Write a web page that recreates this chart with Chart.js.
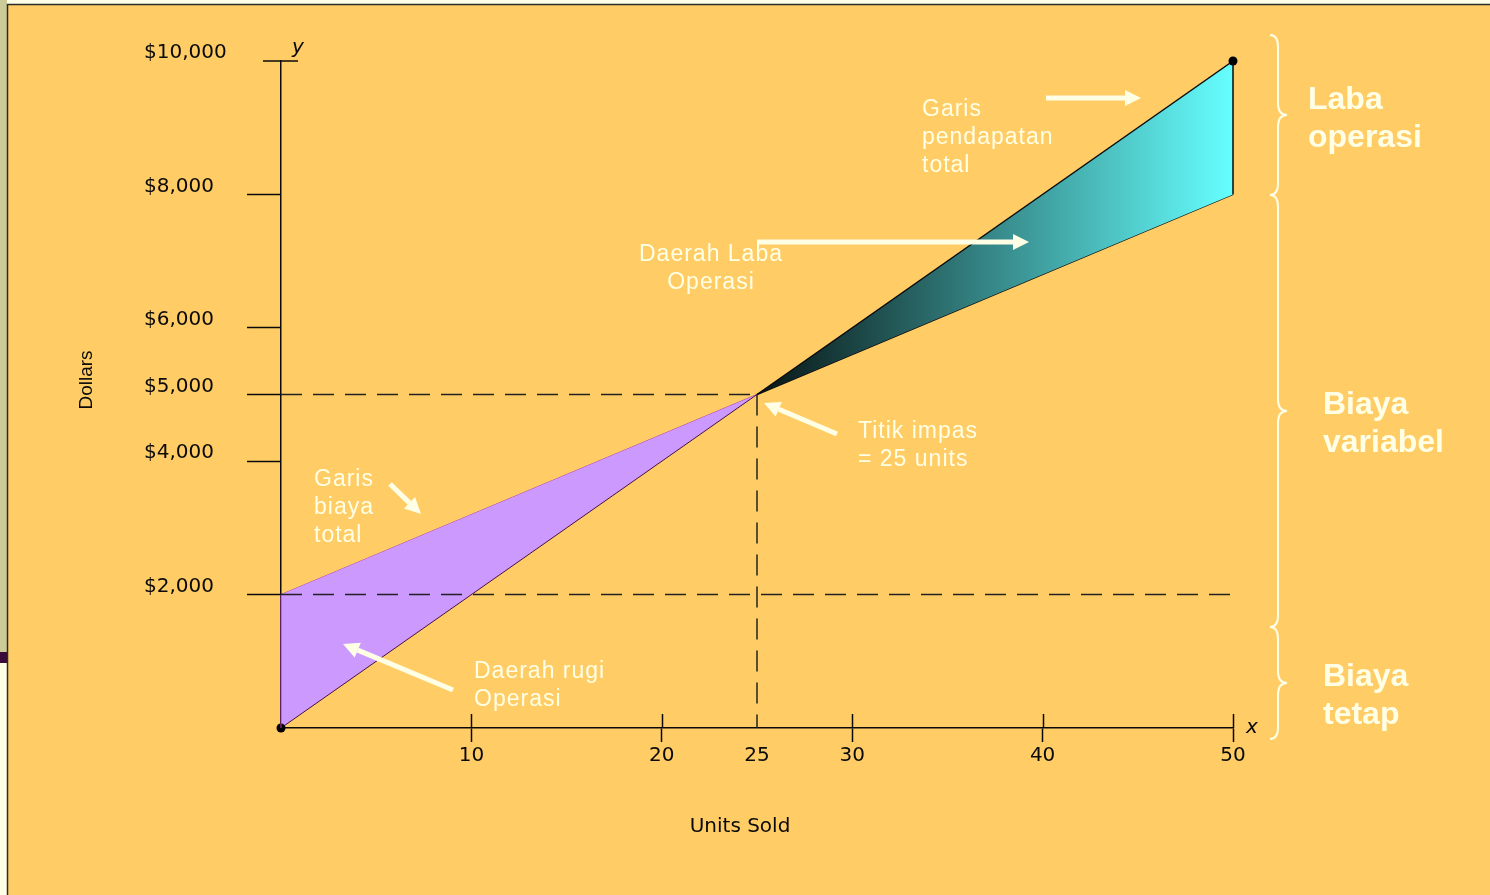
<!DOCTYPE html>
<html lang="id">
<head>
  <meta charset="UTF-8" />
  <title>Titik Impas - Grafik Biaya Volume Laba</title>
  <script src="https://cdn.jsdelivr.net/npm/chart.js"></script>
  <style>
    html, body { margin: 0; padding: 0; overflow: hidden; background: #FFFFE8; }
    canvas { display: block; }
  </style>
</head>
<body>
  <canvas id="bepChart" width="1490" height="895"></canvas>

  <script>
    // Data
    const units = [0, 25, 50];
    const revenue = [0, 5000, 10000];
    const totalCost = [2000, 5000, 8000];
    const xTicks = [10, 20, 25, 30, 40, 50];
    const yTicks = [2000, 4000, 5000, 6000, 8000, 10000];

    const beIndex = units.findIndex((u, i) => i > 0 && revenue[i] === totalCost[i]);
    const beUnits = units[beIndex];
    const beDollars = revenue[beIndex];
    const fixedCost = totalCost[0];
    const xMax = units[units.length - 1];
    const yMax = yTicks[yTicks.length - 1];

    const TXT = '#FFFFE6';
    const INK = '#0a0a0a';
    const NONE = 'rgba(0,0,0,0)';

    function pts(xs, ys) {
      return xs.map((x, i) => ({ x: x, y: ys[i] }));
    }

    const lossRev = pts(units.slice(0, beIndex + 1), revenue.slice(0, beIndex + 1));
    const lossCost = pts(units.slice(0, beIndex + 1), totalCost.slice(0, beIndex + 1));
    const profRev = pts(units.slice(beIndex), revenue.slice(beIndex));
    const profCost = pts(units.slice(beIndex), totalCost.slice(beIndex));

    function profitGradient(context) {
      const chart = context.chart;
      const { ctx, chartArea, scales } = chart;
      if (!chartArea || !scales.x) return '#33AAAA';
      const x0 = scales.x.getPixelForValue(beUnits);
      const x1 = scales.x.getPixelForValue(xMax);
      const g = ctx.createLinearGradient(x0, 0, x1, 0);
      g.addColorStop(0, '#081414');
      g.addColorStop(1, '#66FFFF');
      return g;
    }

    function arrow(c, x1, y1, x2, y2) {
      const a = Math.atan2(y2 - y1, x2 - x1);
      const hl = 16, hw = 8;
      const bx = x2 - hl * Math.cos(a), by = y2 - hl * Math.sin(a);
      c.lineWidth = 5;
      c.beginPath(); c.moveTo(x1, y1); c.lineTo(bx, by); c.stroke();
      c.beginPath();
      c.moveTo(x2, y2);
      c.lineTo(bx - hw * Math.sin(a), by + hw * Math.cos(a));
      c.lineTo(bx + hw * Math.sin(a), by - hw * Math.cos(a));
      c.closePath(); c.fill();
    }

    function brace(c, x, top, mid, bottom) {
      c.beginPath();
      c.moveTo(x - 8, top);
      c.quadraticCurveTo(x, top, x, top + 12);
      c.lineTo(x, mid - 12);
      c.quadraticCurveTo(x, mid, x + 9, mid);
      c.quadraticCurveTo(x, mid, x, mid + 12);
      c.lineTo(x, bottom - 12);
      c.quadraticCurveTo(x, bottom, x - 8, bottom);
      c.stroke();
    }

    function lines(c, arr, x, y0, step) {
      arr.forEach((t, i) => c.fillText(t, x, y0 + i * step));
    }

    const decor = {
      id: 'decor',
      beforeDraw(chart) {
        const c = chart.ctx, W = chart.width, H = chart.height;
        c.save();
        c.fillStyle = '#FFFFE8'; c.fillRect(0, 0, W, H);
        c.fillStyle = '#CCCC99'; c.fillRect(0, 0, 7, 652);
        c.fillStyle = '#3A0A3A'; c.fillRect(0, 652, 7, 11);
        c.fillStyle = '#FFCC66'; c.fillRect(8, 5, W - 8, H - 5);
        c.strokeStyle = '#2b2b2b'; c.lineWidth = 1.5;
        c.beginPath(); c.moveTo(7.5, H); c.lineTo(7.5, 4.5); c.lineTo(W, 4.5); c.stroke();
        c.restore();
      },
      afterDatasetsDraw(chart) {
        const c = chart.ctx, xs = chart.scales.x, ys = chart.scales.y, area = chart.chartArea;
        const bx = xs.getPixelForValue(beUnits), by = ys.getPixelForValue(beDollars);
        const fy = ys.getPixelForValue(fixedCost);
        const ex = xs.getPixelForValue(xMax);
        c.save();
        // box edges of the shaded areas
        c.lineWidth = 1;
        c.strokeStyle = '#B03CB0';
        c.beginPath(); c.moveTo(area.left, ys.getPixelForValue(revenue[0])); c.lineTo(area.left, ys.getPixelForValue(totalCost[0])); c.stroke();
        c.strokeStyle = INK; c.lineWidth = 1.5;
        c.beginPath(); c.moveTo(ex, ys.getPixelForValue(totalCost[totalCost.length - 1])); c.lineTo(ex, ys.getPixelForValue(revenue[revenue.length - 1])); c.stroke();
        // dashed guides
        c.strokeStyle = '#222'; c.lineWidth = 1.5; c.setLineDash([21, 11]);
        c.beginPath(); c.moveTo(area.left, by); c.lineTo(bx, by); c.stroke();
        c.beginPath(); c.moveTo(area.left, fy); c.lineTo(ex, fy); c.stroke();
        c.beginPath(); c.moveTo(bx, by); c.lineTo(bx, area.bottom); c.stroke();
        c.setLineDash([]);
        // upper halves of x ticks, top y tick
        c.strokeStyle = INK; c.lineWidth = 1.5;
        xTicks.forEach(v => {
          if (v === beUnits) return;
          const px = Math.round(xs.getPixelForValue(v)) + 0.5;
          c.beginPath(); c.moveTo(px, area.bottom - 14); c.lineTo(px, area.bottom); c.stroke();
        });
        const ty = ys.getPixelForValue(yMax);
        c.beginPath(); c.moveTo(area.left - 18, ty); c.lineTo(area.left + 17, ty); c.stroke();
        c.restore();
      },
      afterDraw(chart) {
        const c = chart.ctx, area = chart.chartArea;
        c.save();
        // axis letters and titles
        c.fillStyle = INK;
        c.textBaseline = 'alphabetic';
        c.font = 'italic 20px "DejaVu Sans"';
        c.textAlign = 'left';
        c.fillText('y', area.left + 11, 53);
        c.fillText('x', area.right + 13, area.bottom + 5);
        c.font = '20px "DejaVu Sans"';
        c.textAlign = 'center';
        c.fillText('Units Sold', 740, 832);
        c.save();
        c.translate(92, 380); c.rotate(-Math.PI / 2);
        c.font = '19px "Liberation Sans", Arial';
        c.fillText('Dollars', 0, 0);
        c.restore();

        // white notes
        c.fillStyle = TXT; c.strokeStyle = TXT;
        c.font = '23px "Liberation Sans", Arial';
        c.letterSpacing = '1px';
        c.textAlign = 'left';
        lines(c, ['Garis', 'pendapatan', 'total'], 922, 116, 28);
        lines(c, ['Garis', 'biaya', 'total'], 314, 486, 28);
        lines(c, ['Titik impas', '= 25 units'], 858, 438, 28);
        lines(c, ['Daerah rugi', 'Operasi'], 474, 678, 28);
        c.textAlign = 'center';
        lines(c, ['Daerah Laba', 'Operasi'], 711, 261, 28);
        c.letterSpacing = '0px';

        arrow(c, 1046, 98, 1141, 98);
        arrow(c, 757, 242, 1029, 242);
        arrow(c, 837, 434, 764, 403);
        arrow(c, 390, 484, 421, 514);
        arrow(c, 453, 690, 343, 644);

        // braces on the right
        c.lineWidth = 2;
        brace(c, 1278, 35, 115, 195);
        brace(c, 1278, 195, 411, 627);
        brace(c, 1278, 627, 683, 739);

        c.font = 'bold 32px "Liberation Sans", Arial';
        c.textAlign = 'left';
        lines(c, ['Laba', 'operasi'], 1308, 109, 38);
        lines(c, ['Biaya', 'variabel'], 1323, 414, 38);
        lines(c, ['Biaya', 'tetap'], 1323, 686, 38);
        c.restore();
      }
    };

    const tickFont = { family: '"DejaVu Sans"', size: 20 };

    new Chart(document.getElementById('bepChart').getContext('2d'), {
      type: 'line',
      data: {
        datasets: [
          {
            label: 'Pendapatan (rugi)',
            data: lossRev,
            borderColor: '#4A1040',
            borderWidth: 1,
            fill: '+1',
            backgroundColor: '#CC99FF',
            pointRadius: ctx => (ctx.dataIndex === 0 ? 4.5 : 0),
            pointBackgroundColor: '#000',
            pointBorderWidth: 0
          },
          {
            label: 'Biaya total (rugi)',
            data: lossCost,
            borderColor: '#B03CB0',
            borderWidth: 1,
            fill: false,
            pointRadius: 0
          },
          {
            label: 'Pendapatan (laba)',
            data: profRev,
            borderColor: INK,
            borderWidth: 1.5,
            fill: '+1',
            backgroundColor: profitGradient,
            pointRadius: ctx => (ctx.dataIndex === profRev.length - 1 ? 4.5 : 0),
            pointBackgroundColor: '#000',
            pointBorderWidth: 0
          },
          {
            label: 'Biaya total (laba)',
            data: profCost,
            borderColor: INK,
            borderWidth: 1.5,
            fill: false,
            pointRadius: 0
          }
        ]
      },
      options: {
        responsive: false,
        animation: false,
        events: [],
        clip: false,
        layout: { padding: { left: 144, top: 61, right: 257, bottom: 127 } },
        plugins: {
          legend: { display: false },
          tooltip: { enabled: false }
        },
        scales: {
          x: {
            type: 'linear',
            min: 0,
            max: xMax,
            afterBuildTicks: s => { s.ticks = xTicks.map(v => ({ value: v })); },
            afterFit: s => { s.height = 40; },
            border: { color: INK, width: 1.5 },
            grid: {
              drawOnChartArea: false,
              tickLength: 14,
              tickWidth: 1.5,
              tickColor: ctx => (ctx.tick && ctx.tick.value === beUnits ? NONE : INK)
            },
            ticks: { color: INK, font: tickFont, padding: 2, maxRotation: 0, autoSkip: false }
          },
          y: {
            type: 'linear',
            min: 0,
            max: yMax,
            afterBuildTicks: s => { s.ticks = yTicks.map(v => ({ value: v })); },
            afterFit: s => { s.width = 137; },
            border: { color: INK, width: 1.5 },
            grid: {
              drawOnChartArea: false,
              tickLength: 34,
              tickWidth: 1.5,
              tickColor: ctx => (ctx.tick && ctx.tick.value === yMax ? NONE : INK)
            },
            ticks: {
              color: INK,
              font: tickFont,
              crossAlign: 'far',
              labelOffset: -8,
              padding: 0,
              autoSkip: false,
              callback: v => '$' + v.toLocaleString('en-US')
            }
          }
        }
      },
      plugins: [decor]
    });
  </script>
</body>
</html>
